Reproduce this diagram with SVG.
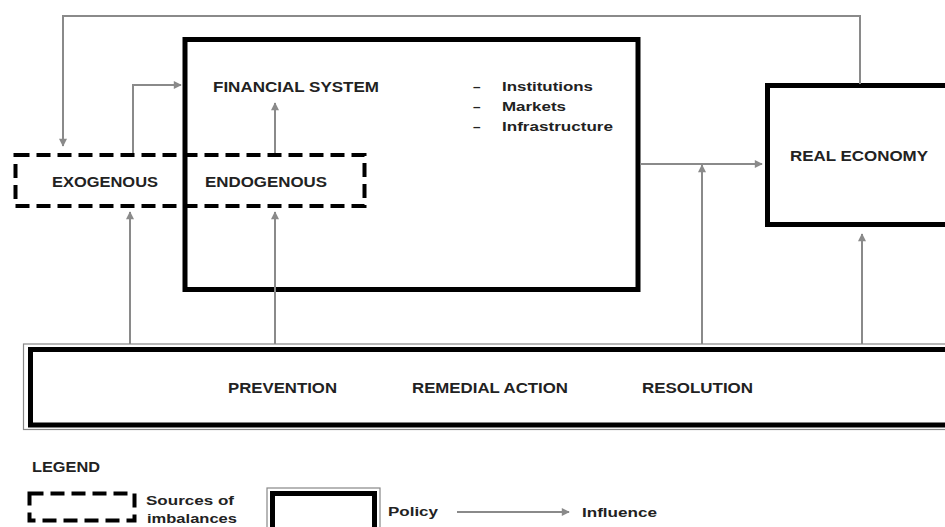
<svg xmlns="http://www.w3.org/2000/svg" width="945" height="527" viewBox="0 0 945 527">
  <style>
    .lbl { font-family: "Liberation Sans", Arial, sans-serif; font-weight: bold; font-size: 14px; fill: #222; }
    .item { font-family: "Liberation Sans", Arial, sans-serif; font-weight: bold; font-size: 13.5px; fill: #222; }
    .box { fill: none; stroke: #000; stroke-width: 5; }
    .frame { fill: none; stroke: #888; stroke-width: 1.2; }
    .dash { fill: none; stroke: #000; stroke-width: 4; stroke-dasharray: 14 7; }
    .flow { fill: none; stroke: #8a8a8a; stroke-width: 2; }
  </style>
  <defs>
    <marker id="head" viewBox="0 0 10 10" refX="9" refY="5" markerWidth="10" markerHeight="8" markerUnits="userSpaceOnUse" orient="auto">
      <path d="M0,0 L10,5 L0,10 z" fill="#8a8a8a"/>
    </marker>
  </defs>
  <rect width="945" height="527" fill="#fff"/>

  <!-- financial system -->
  <g id="financial-system">
    <rect class="box" x="185" y="39.5" width="453" height="250"/>
    <text class="lbl" x="213" y="92" textLength="166" lengthAdjust="spacingAndGlyphs">FINANCIAL SYSTEM</text>
    <text class="item" x="473" y="91">–</text>
    <text class="item" x="473" y="111">–</text>
    <text class="item" x="473" y="131" fill="#666">–</text>
    <text class="item" x="502" y="91" textLength="91" lengthAdjust="spacingAndGlyphs">Institutions</text>
    <text class="item" x="502" y="111" textLength="64" lengthAdjust="spacingAndGlyphs">Markets</text>
    <text class="item" x="502" y="131" textLength="111" lengthAdjust="spacingAndGlyphs">Infrastructure</text>
  </g>

  <!-- real economy -->
  <g id="real-economy">
    <rect class="box" x="767.5" y="85.5" width="200" height="139"/>
    <text class="lbl" x="790" y="161" textLength="138" lengthAdjust="spacingAndGlyphs">REAL ECONOMY</text>
  </g>

  <!-- sources of imbalances -->
  <g id="sources">
    <rect class="dash" x="15.5" y="155" width="349" height="51"/>
    <text class="lbl" x="52" y="187" textLength="106" lengthAdjust="spacingAndGlyphs">EXOGENOUS</text>
    <text class="lbl" x="205" y="187" textLength="122" lengthAdjust="spacingAndGlyphs">ENDOGENOUS</text>
  </g>

  <!-- policy -->
  <g id="policy">
    <rect class="frame" x="23.5" y="344" width="950" height="85.5"/>
    <rect class="box" x="30.5" y="349.5" width="950" height="75.5"/>
    <text class="lbl" x="228" y="393" textLength="109" lengthAdjust="spacingAndGlyphs">PREVENTION</text>
    <text class="lbl" x="412" y="393" textLength="156" lengthAdjust="spacingAndGlyphs">REMEDIAL ACTION</text>
    <text class="lbl" x="642" y="393" textLength="111" lengthAdjust="spacingAndGlyphs">RESOLUTION</text>
  </g>

  <!-- influences -->
  <g id="connectors">
    <polyline class="flow" points="860,84 860,16 63,16 63,146" marker-end="url(#head)"/>
    <polyline class="flow" points="133,153 133,85 181,85" marker-end="url(#head)"/>
    <line class="flow" x1="275" y1="153" x2="275" y2="103" marker-end="url(#head)"/>
    <line class="flow" x1="640" y1="164" x2="762" y2="164" marker-end="url(#head)"/>
    <line class="flow" x1="130" y1="344" x2="130" y2="212" marker-end="url(#head)"/>
    <line class="flow" x1="275" y1="344" x2="275" y2="212" marker-end="url(#head)"/>
    <line class="flow" x1="702" y1="344" x2="702" y2="165" marker-end="url(#head)"/>
    <line class="flow" x1="862" y1="344" x2="862" y2="234" marker-end="url(#head)"/>
  </g>

  <!-- legend -->
  <g id="legend">
    <text class="lbl" x="32" y="472" textLength="68" lengthAdjust="spacingAndGlyphs">LEGEND</text>
    <rect class="dash" x="29.5" y="493.5" width="105" height="27"/>
    <text class="item" x="146" y="505" textLength="88" lengthAdjust="spacingAndGlyphs">Sources of</text>
    <text class="item" x="147" y="523" textLength="90" lengthAdjust="spacingAndGlyphs">imbalances</text>
    <rect class="frame" x="267" y="488" width="113" height="60"/>
    <rect class="box" x="272.5" y="493.5" width="102" height="50"/>
    <text class="item" x="388" y="516" textLength="50" lengthAdjust="spacingAndGlyphs">Policy</text>
    <line class="flow" x1="457" y1="512" x2="569" y2="512" marker-end="url(#head)"/>
    <text class="item" x="582" y="517" textLength="75" lengthAdjust="spacingAndGlyphs">Influence</text>
  </g>
</svg>
